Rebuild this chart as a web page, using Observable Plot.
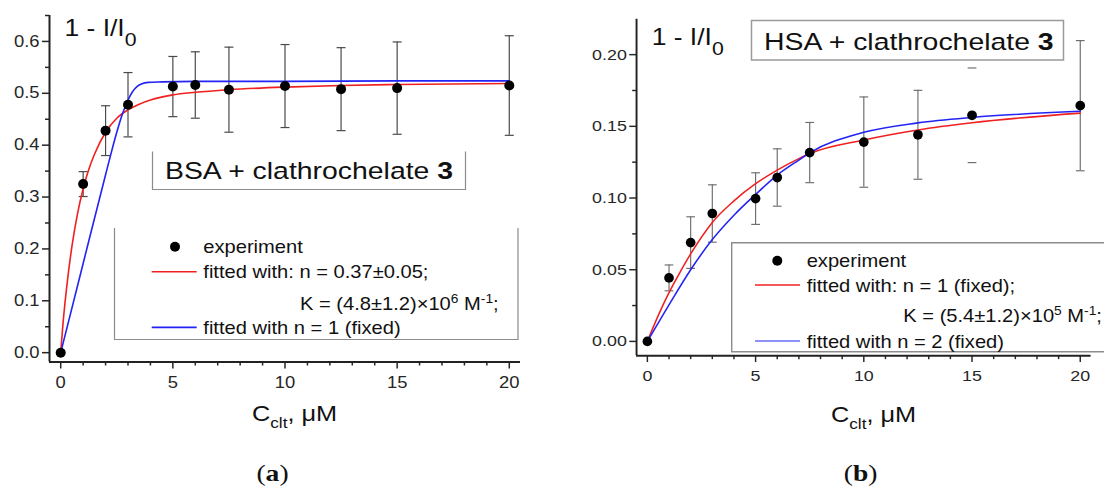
<!DOCTYPE html>
<html><head><meta charset="utf-8">
<script src="https://cdn.jsdelivr.net/npm/d3@7"></script>
<script src="https://cdn.jsdelivr.net/npm/@observablehq/plot@0.6"></script>
<style>
html,body{margin:0;padding:0;background:#fff;}
#root{position:relative;width:1104px;height:488px;overflow:hidden;background:#fff;}
#pa{position:absolute;left:0;top:0;}
#pb{position:absolute;left:560px;top:0;}
#ov{position:absolute;left:0;top:0;pointer-events:none;}
</style></head>
<body><div id="root"><div id="pa"></div><div id="pb"></div></div>
<script>
// ---------- data ----------
const conc = [0, 1, 2, 3, 5, 6, 7.5, 10, 12.5, 15, 20];           // C_clt, µM

const bsaY   = [0, 0.325, 0.428, 0.478, 0.513, 0.516, 0.507, 0.514, 0.508, 0.510, 0.515];
const bsaErr = [0, 0.024, 0.048, 0.062, 0.058, 0.064, 0.082, 0.080, 0.080, 0.089, 0.096];

const hsaY   = [0, 0.0443, 0.0689, 0.0892, 0.0996, 0.1143, 0.1317, 0.1390, 0.1441, 0.1577, 0.1644];
const hsaErr = [0, 0.009, 0.018, 0.020, 0.018, 0.020, 0.021, 0.0315, 0.031, 0.033, 0.0454];
const hsaNoStem = [15];   // error bar at 15 µM shows caps only

// fitted curves
const bsaRedX  = [0, 0.1, 0.25, 0.5, 0.75, 1, 1.25, 1.5, 2, 2.5, 3, 3.5, 4, 5, 6, 7.5, 10, 12.5, 15, 20];
const bsaRedY  = [0, 0.055, 0.12, 0.205, 0.268, 0.316, 0.353, 0.382, 0.425, 0.452, 0.468, 0.479, 0.487, 0.497, 0.502, 0.507, 0.512, 0.515, 0.517, 0.519];
const bsaBlueX = [0, 1, 2, 2.5, 2.75, 3, 3.2, 3.4, 3.6, 3.9, 4.5, 6, 10, 15, 20];
const bsaBlueY = [0, 0.172, 0.343, 0.425, 0.46, 0.487, 0.503, 0.513, 0.518, 0.521, 0.522, 0.523, 0.523, 0.524, 0.524];

const hsaRedX  = [0, 0.5, 1, 1.5, 2, 3, 4, 5, 6, 7, 7.5, 10, 12.5, 15, 20];
const hsaRedY  = [0, 0.018, 0.034, 0.048, 0.061, 0.083, 0.098, 0.110, 0.1195, 0.1275, 0.131, 0.1405, 0.1475, 0.1525, 0.1592];
const hsaBlueX = [0, 1, 2, 3, 4, 5, 6, 7, 7.5, 10, 12.5, 15, 20];
const hsaBlueY = [0, 0.0255, 0.050, 0.071, 0.088, 0.1025, 0.116, 0.1265, 0.1315, 0.1458, 0.1524, 0.1562, 0.1605];

const xMajor = [0, 5, 10, 15, 20];
const xMinor = [1, 2, 3, 4, 6, 7, 8, 9, 11, 12, 13, 14, 16, 17, 18, 19];
const yMajorA = [0, 0.1, 0.2, 0.3, 0.4, 0.5, 0.6];
const yMinorA = [0.05, 0.15, 0.25, 0.35, 0.45, 0.55, 0.65];
const yMajorB = [0, 0.05, 0.10, 0.15, 0.20];
const yMinorB = [0.025, 0.075, 0.125, 0.175];

// ---------- style ----------
const SANS = "'Liberation Sans', Arial, Helvetica, sans-serif";
const SERIF = "'Liberation Serif', 'Times New Roman', serif";
const STRETCH = 1.15;
const RED = "#f02020", BLUE = "#2323f5";

const capSymbol = {draw(ctx, size) { const w = Math.sqrt(size / Math.PI); ctx.moveTo(-w, 0); ctx.lineTo(w, 0); }};

function stretchText(t) {
  const x = parseFloat(t.getAttribute("x")) || 0;
  const old = t.getAttribute("transform") || "";
  t.setAttribute("transform", `${old} translate(${x},0) scale(${STRETCH},1) translate(${-x},0)`);
}

function panel(o) {
  const pts = conc.map((x, i) => ({x, y: o.ys[i], e: o.errs[i]}));
  const withErr = pts.filter(d => d.e > 0);
  const caps = withErr.flatMap(d => [{x: d.x, y: d.y - d.e}, {x: d.x, y: d.y + d.e}]);
  const red = o.redX.map((x, i) => ({x, y: o.redY[i]}));
  const blue = o.blueX.map((x, i) => ({x, y: o.blueY[i]}));
  return Plot.plot({
    width: o.width, height: o.height,
    marginLeft: o.mL, marginRight: o.mR, marginTop: o.mT, marginBottom: o.mB,
    x: {domain: [-0.5, 20.5]},
    y: {domain: o.yDomain},
    style: {fontFamily: SANS, fontSize: "16px", background: "transparent", overflow: "visible", color: "#262626"},
    marks: [
      Plot.ruleX(withErr.filter(d => !(o.noStem || []).includes(d.x)), {x: "x", y1: d => d.y - d.e, y2: d => d.y + d.e, stroke: o.errColor, strokeWidth: 1.2}),
      Plot.dot(caps, {x: "x", y: "y", symbol: capSymbol, r: 4.5, fill: "none", stroke: o.errColor, strokeWidth: 1.2}),
      Plot.line(red, {x: "x", y: "y", stroke: RED, strokeWidth: 1.6, curve: "monotone-x"}),
      Plot.line(blue, {x: "x", y: "y", stroke: BLUE, strokeWidth: 1.6, curve: "monotone-x"}),
      Plot.dot(pts, {x: "x", y: "y", r: 5, fill: "#000"}),
      Plot.axisX({ticks: xMajor, tickSize: 7, tickFormat: () => "", label: null, strokeWidth: 1.5}),
      Plot.axisX({ticks: xMinor, tickSize: 4, tickFormat: () => "", label: null, strokeWidth: 1.5}),
      Plot.axisY({ticks: o.yMajor, tickSize: 7, tickFormat: () => "", label: null, strokeWidth: 1.5}),
      Plot.axisY({ticks: o.yMinor, tickSize: 4, tickFormat: () => "", label: null, strokeWidth: 1.5}),
      Plot.text(xMajor, {x: d => d, frameAnchor: "bottom", dy: 21, text: d => String(d), fontSize: 16, fill: "#262626", lineAnchor: "middle"}),
      Plot.text(o.yMajor, {y: d => d, frameAnchor: "left", dx: -10, text: o.yFmt, fontSize: 16, fill: "#262626", textAnchor: "end", lineAnchor: "middle"}),
      Plot.ruleX([-0.5], {stroke: "#222", strokeWidth: 2}),
      Plot.ruleY([o.yDomain[0]], {stroke: "#222", strokeWidth: 2})
    ]
  });
}

const plotA = panel({
  ys: bsaY, errs: bsaErr, redX: bsaRedX, redY: bsaRedY, blueX: bsaBlueX, blueY: bsaBlueY,
  yDomain: [-0.018, 0.65], yMajor: yMajorA, yMinor: yMinorA, yFmt: d3.format(".1f"),
  width: 540, height: 440, mL: 49, mR: 20, mT: 15, mB: 78.5, errColor: "#4a4a4a"
});
const plotB = panel({
  ys: hsaY, errs: hsaErr, redX: hsaRedX, redY: hsaRedY, blueX: hsaBlueX, blueY: hsaBlueY,
  yDomain: [-0.010, 0.2247], yMajor: yMajorB, yMinor: yMinorB, yFmt: d3.format(".2f"),
  width: 560, height: 440, mL: 78.3, mR: 13.8, mT: 19.3, mB: 74.3, errColor: "#6e6e6e", noStem: hsaNoStem
});
document.getElementById("pa").append(plotA);
document.getElementById("pb").append(plotB);
[plotA, plotB].forEach(svg => svg.querySelectorAll("text").forEach(stretchText));

// ---------- annotations (labels, boxes, legends) ----------
const ov = d3.select("#root").append("svg").attr("id", "ov").attr("width", 1104).attr("height", 488);

function rich(x, y, parts, size, opt = {}) {
  const t = ov.append("text").attr("x", x).attr("y", y)
    .attr("font-family", opt.family || SANS).attr("font-size", size)
    .attr("fill", opt.fill || "#111").attr("text-anchor", opt.anchor || "start");
  let cur = 0;
  for (const p of parts) {
    const [s, role] = Array.isArray(p) ? p : [p, "n"];
    let target = 0, fs = size, bold = false;
    if (role === "sub") { target = opt.subShift; fs = opt.subSize; }
    else if (role === "sup") { target = -opt.supShift; fs = opt.supSize; }
    else if (role === "b") { bold = true; }
    const ts = t.append("tspan").text(s).attr("font-size", fs);
    if (bold) ts.attr("font-weight", "bold");
    if (target !== cur) { ts.attr("dy", target - cur); cur = target; }
  }
  stretchText(t.node());
  return t;
}
function line(x1, y1, x2, y2, stroke, w) {
  ov.append("line").attr("x1", x1).attr("y1", y1).attr("x2", x2).attr("y2", y2)
    .attr("stroke", stroke).attr("stroke-width", w);
}

// y-quantity labels
rich(64.5, 36.5, ["1 - I/I", ["0", "sub"]], 23, {subShift: 10, subSize: 18.5});
rich(651.7, 45, ["1 - I/I", ["0", "sub"]], 23, {subShift: 10, subSize: 18.5});

// panel (a) title box (open at top)
ov.append("path").attr("d", "M152.5,151.5 V189.5 H465.5 V151.5").attr("fill", "none").attr("stroke", "#8c8c8c").attr("stroke-width", 1.2);
rich(165, 179, ["BSA + clathrochelate ", ["3", "b"]], 24.7);

// panel (b) title box
ov.append("rect").attr("x", 751.5).attr("y", 20.5).attr("width", 312).attr("height", 39.5).attr("fill", "#fff").attr("stroke", "#9a9a9a").attr("stroke-width", 1.5);
rich(764, 50, ["HSA + clathrochelate ", ["3", "b"]], 24.7);

// panel (a) legend (open at top)
ov.append("path").attr("d", "M114.5,228 V339.5 H518 V228").attr("fill", "none").attr("stroke", "#8c8c8c").attr("stroke-width", 1.2);
ov.append("circle").attr("cx", 175).attr("cy", 246.7).attr("r", 5).attr("fill", "#000");
rich(203.3, 253.3, ["experiment"], 17.5);
line(151.7, 271.7, 196.7, 271.7, RED, 1.4);
rich(203.3, 278.3, ["fitted with: n = 0.37±0.05;"], 17.5);
rich(300, 310, ["K = (4.8±1.2)×10", ["6", "sup"], " M", ["-1", "sup"], ";"], 17.5, {supShift: 7, supSize: 12});
line(151.7, 327.3, 196.7, 327.3, BLUE, 1.8);
rich(203.3, 334.3, ["fitted with n = 1 (fixed)"], 17.5);

// panel (b) legend
ov.append("path").attr("d", "M1110,242.7 H731.7 V351.7 H1110").attr("fill", "none").attr("stroke", "#8c8c8c").attr("stroke-width", 1.4);
ov.append("circle").attr("cx", 777.3).attr("cy", 260.7).attr("r", 5).attr("fill", "#000");
rich(806.7, 266.7, ["experiment"], 17.5);
line(755, 285, 800, 285, RED, 1.4);
rich(806.7, 292.3, ["fitted with: n = 1 (fixed);"], 17.5);
rich(903.3, 321.7, ["K = (5.4±1.2)×10", ["5", "sup"], " M", ["-1", "sup"], ";"], 17.5, {supShift: 7, supSize: 12});
line(755, 341, 800, 341, BLUE, 1.2);
rich(806.7, 348.3, ["fitted with n = 2 (fixed)"], 17.5);

// x-axis titles
rich(252, 421, ["C", ["clt", "sub"], ", μM"], 22, {subShift: 7, subSize: 15});
rich(831, 421.7, ["C", ["clt", "sub"], ", μM"], 22, {subShift: 7, subSize: 15});

// panel letters
rich(272.5, 481, ["(", ["a", "b"], ")"], 24, {family: SERIF, anchor: "middle"});
rich(860.7, 481, ["(", ["b", "b"], ")"], 24, {family: SERIF, anchor: "middle"});
</script>
</body></html>
